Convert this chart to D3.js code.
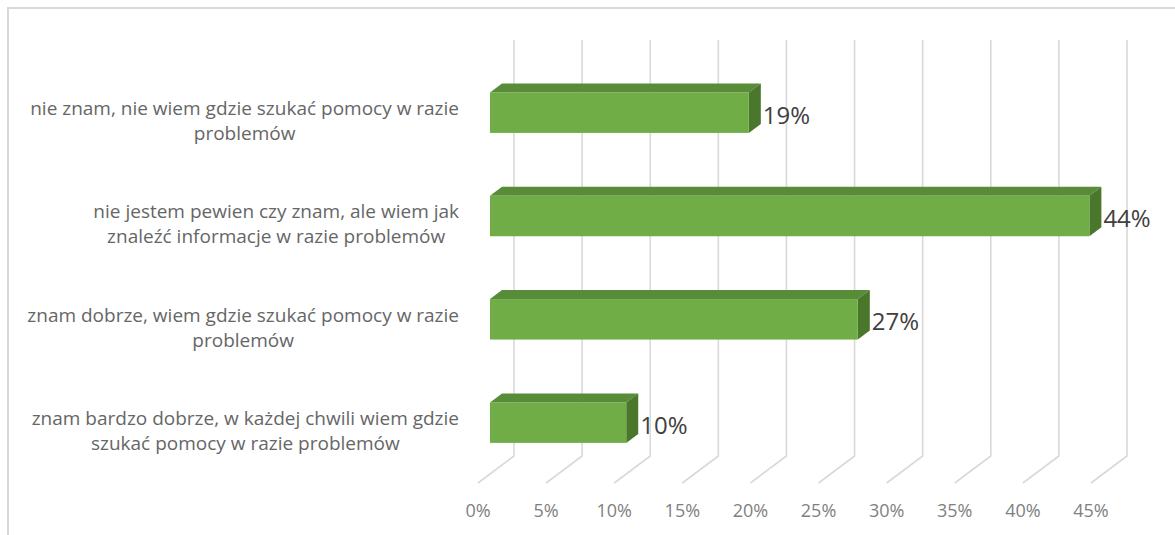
<!DOCTYPE html>
<html>
<head>
<meta charset="utf-8">
<script src="https://cdn.jsdelivr.net/npm/d3@7"></script>
<style>
  html, body { margin: 0; padding: 0; background: #ffffff; }
  svg { display: block; }
</style>
</head>
<body>
<script>
// ---- data ----
const categories = [
  "nie znam, nie wiem gdzie szukać pomocy w razie\nproblemów",
  "nie jestem pewien czy znam, ale wiem jak\nznaleźć informacje w razie problemów",
  "znam dobrze, wiem gdzie szukać pomocy w razie\nproblemów",
  "znam bardzo dobrze, w każdej chwili wiem gdzie\nszukać pomocy w razie problemów"
];
const values = [19, 44, 27, 10];
const tickValues = [0, 5, 10, 15, 20, 25, 30, 35, 40, 45];
const tickLabels = ["0%", "5%", "10%", "15%", "20%", "25%", "30%", "35%", "40%", "45%"];
const valueLabels = ["19%", "44%", "27%", "10%"];

// ---- layout ----
const W = 1175, H = 535;
const FONT = "'Open Sans', 'Noto Sans', sans-serif";
const depthX = -36, depthY = 27;   // back plane -> front plane offset
const fBack = 1 / 3, fFront = 2 / 3; // bar depth within the floor

const svg = d3.select("body").append("svg").attr("width", W).attr("height", H);

// chart border
svg.append("rect").attr("x", 8).attr("y", 8).attr("width", W + 20).attr("height", H + 20)
  .attr("fill", "none").attr("stroke", "#d9d9d9").attr("stroke-width", 2);

const x = d3.scaleLinear().domain([0, 45]).range([514, 1127]);
const y = d3.scaleBand().domain(categories).range([43, 456.3]).paddingInner(0.608).paddingOuter(0.304);
const gridTop = 40, gridBottom = 456;

// gridlines (back wall + floor diagonal)
svg.append("g").selectAll("path").data(tickValues).join("path")
  .attr("d", t => `M${x(t)},${gridTop} V${gridBottom} L${x(t) + depthX},${gridBottom + depthY}`)
  .attr("fill", "none").attr("stroke", "#d9d9d9").attr("stroke-width", 1.6);

// tick labels
svg.append("g").selectAll("text").data(tickValues).join("text")
  .attr("x", t => x(t) + depthX)
  .attr("y", 517)
  .attr("text-anchor", "middle")
  .attr("font-family", FONT).attr("font-size", 18).attr("fill", "#7f7f7f")
  .text((t, i) => tickLabels[i]);

// bars
const bw = y.bandwidth();
const bars = svg.append("g").selectAll("g").data(categories).join("g");
function geom(c, i) {
  const v = values[i];
  const fx = depthX * fFront, fy = depthY * fFront;
  const bx = depthX * fBack, by = depthY * fBack;
  return {
    xf0: x(0) + fx, xf1: x(v) + fx, yf: y(c) + fy,
    xb0: x(0) + bx, xb1: x(v) + bx, yb: y(c) + by
  };
}
// top face
bars.append("path")
  .attr("d", (c, i) => { const g = geom(c, i);
    return `M${g.xf0},${g.yf} L${g.xf1},${g.yf} L${g.xb1},${g.yb} L${g.xb0},${g.yb} Z`; })
  .attr("fill", "#588c39");
// side face
bars.append("path")
  .attr("d", (c, i) => { const g = geom(c, i);
    return `M${g.xf1},${g.yf} L${g.xb1},${g.yb} L${g.xb1},${g.yb + bw} L${g.xf1},${g.yf + bw} Z`; })
  .attr("fill", "#4a772b");
// front face
bars.append("rect")
  .attr("x", (c, i) => geom(c, i).xf0)
  .attr("y", (c, i) => geom(c, i).yf)
  .attr("width", (c, i) => geom(c, i).xf1 - geom(c, i).xf0)
  .attr("height", bw)
  .attr("fill", "#70ad47");

// value labels
bars.append("text")
  .attr("x", (c, i) => geom(c, i).xf1 + 14)
  .attr("y", (c, i) => geom(c, i).yf + bw / 2 + 11)
  .attr("font-family", FONT).attr("font-size", 24).attr("fill", "#404040")
  .text((c, i) => valueLabels[i]);

// category labels: lines centered in a box right-aligned at the axis
const labelRight = 459;
const lineH = 25;
categories.forEach((c, i) => {
  const g = geom(c, i);
  const lines = c.split("\n");
  const t = svg.append("text")
    .attr("font-family", FONT).attr("font-size", 19).attr("fill", "#666666")
    .attr("text-anchor", "middle");
  const spans = lines.map((ln, k) => t.append("tspan").text(ln));
  const maxW = d3.max(spans, s => s.node().getComputedTextLength());
  const cx = labelRight - maxW / 2;
  const mid = g.yf + bw / 2 + 10;
  const base0 = mid - (lines.length - 1) * lineH / 2 + 5;
  spans.forEach((s, k) => s.attr("x", cx).attr("y", base0 + k * lineH));
});
</script>
</body>
</html>
